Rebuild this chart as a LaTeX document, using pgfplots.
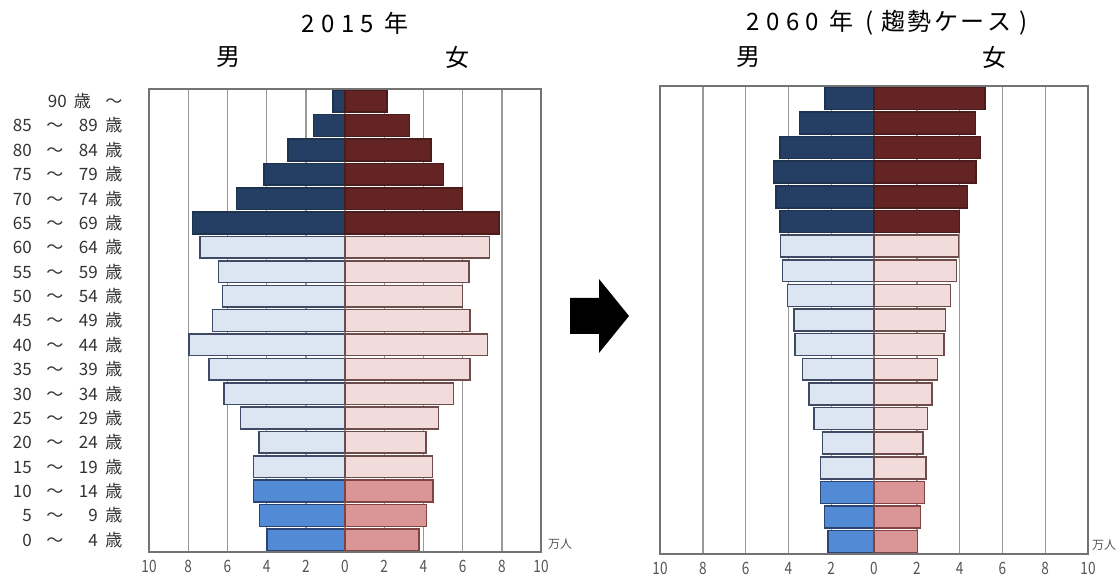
\documentclass[border=0pt]{standalone}
\usepackage{pgfplots}
\pgfplotsset{compat=1.18}
\usepackage{fontspec}
\usepackage{graphicx}
\setmainfont{Noto Sans CJK JP}
\definecolor{mold}{HTML}{243F63}
\definecolor{mmid}{HTML}{DCE6F2}
\definecolor{myng}{HTML}{538AD6}
\definecolor{fold}{HTML}{642424}
\definecolor{fmid}{HTML}{F2DCDB}
\definecolor{fyng}{HTML}{D99694}
\definecolor{bmold}{HTML}{1E3350}
\definecolor{bmmid}{HTML}{3E4A66}
\definecolor{bmyng}{HTML}{2A4574}
\definecolor{bfold}{HTML}{4C1B1B}
\definecolor{bfmid}{HTML}{6E4C4C}
\definecolor{bfyng}{HTML}{804242}
\definecolor{tickgray}{HTML}{555555}
\definecolor{labgray}{HTML}{333333}
\newcommand{\ag}[2]{\makebox[32pt][r]{#1}\makebox[46pt][c]{～}\makebox[20pt][r]{#2}\makebox[32pt][c]{歳}}
\newcommand{\agtop}{\makebox[67pt][r]{90}\makebox[31pt][c]{歳}\makebox[32pt][c]{～}}
\newcommand{\tl}[1]{\scalebox{0.8}[1]{#1}}
\pgfplotsset{
  pyr/.style={
    scale only axis, anchor=south west,
    xmin=-10, xmax=10, ymin=-0.5, ymax=18.5,
    xtick={-10,-8,...,10},
    xticklabels={\tl{10},\tl{8},\tl{6},\tl{4},\tl{2},\tl{0},\tl{2},\tl{4},\tl{6},\tl{8},\tl{10}},
    ytick={0,...,18},
    major tick length=0pt,
    xmajorgrids,
    major grid style={color=black!40, line width=1.4pt},
    axis line style={color=black!55, line width=1.4pt},
    xticklabel style={font=\fontsize{17}{17}\selectfont, text=tickgray, anchor=north, inner sep=0pt, yshift=-8pt},
    yticklabel style={font=\fontsize{17}{17}\selectfont, text=labgray, anchor=east, inner sep=0pt, xshift=-19pt},
  },
  mbar/.style={xbar, bar shift=0pt, line width=1.5pt},
}
\begin{document}
\begin{tikzpicture}[x=1pt,y=1pt]
\useasboundingbox (0,0) rectangle (1120,576);
\fill[white] (0,0) rectangle (1120,576);

% Left pyramid 2015
\begin{axis}[pyr, at={(149pt,24pt)}, width=392pt, height=463pt,
  yticklabels={{\ag{0}{4}},{\ag{5}{9}},{\ag{10}{14}},{\ag{15}{19}},{\ag{20}{24}},{\ag{25}{29}},{\ag{30}{34}},{\ag{35}{39}},{\ag{40}{44}},{\ag{45}{49}},{\ag{50}{54}},{\ag{55}{59}},{\ag{60}{64}},{\ag{65}{69}},{\ag{70}{74}},{\ag{75}{79}},{\ag{80}{84}},{\ag{85}{89}},{\agtop}}]
\addplot[mbar, bar width=0.89, fill=myng, draw=bmyng] coordinates {(-3.98,0) (-4.35,1) (-4.66,2)};
\addplot[mbar, bar width=0.89, fill=mmid, draw=bmmid] coordinates {(-4.66,3) (-4.39,4) (-5.34,5) (-6.17,6) (-6.95,7) (-7.96,8) (-6.75,9) (-6.26,10) (-6.46,11) (-7.41,12)};
\addplot[mbar, bar width=0.89, fill=mold, draw=bmold] coordinates {(-7.78,13) (-5.54,14) (-4.13,15) (-2.90,16) (-1.61,17) (-0.61,18)};
\addplot[mbar, bar width=0.89, fill=fyng, draw=bfyng] coordinates {(3.78,0) (4.17,1) (4.50,2)};
\addplot[mbar, bar width=0.89, fill=fmid, draw=bfmid] coordinates {(4.46,3) (4.13,4) (4.77,5) (5.54,6) (6.39,7) (7.28,8) (6.39,9) (6.00,10) (6.33,11) (7.38,12)};
\addplot[mbar, bar width=0.89, fill=fold, draw=bfold] coordinates {(7.85,13) (6.00,14) (5.03,15) (4.40,16) (3.28,17) (2.15,18)};
\end{axis}

% Right pyramid 2060
\begin{axis}[pyr, at={(660pt,22pt)}, width=428pt, height=468pt, yticklabels={}]
\addplot[mbar, bar width=0.89, fill=myng, draw=bmyng] coordinates {(-2.14,0) (-2.31,1) (-2.50,2)};
\addplot[mbar, bar width=0.89, fill=mmid, draw=bmmid] coordinates {(-2.51,3) (-2.41,4) (-2.80,5) (-3.03,6) (-3.33,7) (-3.69,8) (-3.75,9) (-4.05,10) (-4.27,11) (-4.36,12)};
\addplot[mbar, bar width=0.89, fill=mold, draw=bmold] coordinates {(-4.39,13) (-4.59,14) (-4.69,15) (-4.39,16) (-3.48,17) (-2.28,18)};
\addplot[mbar, bar width=0.89, fill=fyng, draw=bfyng] coordinates {(2.04,0) (2.18,1) (2.35,2)};
\addplot[mbar, bar width=0.89, fill=fmid, draw=bfmid] coordinates {(2.43,3) (2.28,4) (2.50,5) (2.70,6) (2.96,7) (3.27,8) (3.33,9) (3.58,10) (3.85,11) (3.94,12)};
\addplot[mbar, bar width=0.89, fill=fold, draw=bfold] coordinates {(3.99,13) (4.37,14) (4.77,15) (4.97,16) (4.74,17) (5.19,18)};
\end{axis}

% Titles
\node[font=\fontsize{24}{24}\selectfont, anchor=west] at (298,553) {2\kern6.5pt 0\kern6.5pt 1\kern6.5pt 5\kern10pt 年};
\node[font=\fontsize{24}{24}\selectfont] at (228,519) {男};
\node[font=\fontsize{24}{24}\selectfont] at (457,519) {女};
\node[font=\fontsize{24}{24}\selectfont, anchor=west] at (743,553) {2\kern6.5pt 0\kern6.5pt 6\kern6.5pt 0\kern10pt 年\kern12pt (\kern8pt 趨\kern2.5pt 勢\kern2.5pt ケ\kern2.5pt ー\kern2.5pt ス\kern8pt )};
\node[font=\fontsize{24}{24}\selectfont] at (748,519) {男};
\node[font=\fontsize{24}{24}\selectfont] at (994,519) {女};
% units
\node[font=\fontsize{12}{12}\selectfont, text=tickgray, anchor=west, inner sep=0pt] at (548,32) {万人};
\node[font=\fontsize{12}{12}\selectfont, text=tickgray, anchor=west, inner sep=0pt] at (1092,31) {万人};
% arrow
\fill[black] (570,242) -- (599,242) -- (599,223) -- (629,260) -- (599,297) -- (599,278) -- (570,278) -- cycle;
\end{tikzpicture}
\end{document}
